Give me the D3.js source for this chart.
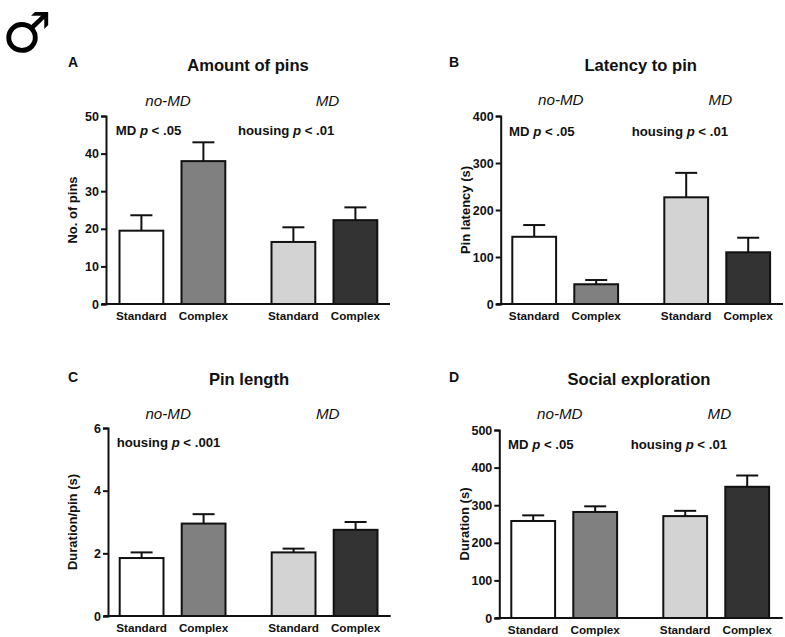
<!DOCTYPE html>
<html><head><meta charset="utf-8">
<script src="https://cdn.jsdelivr.net/npm/d3@7"></script>
<style>
html,body{margin:0;padding:0;background:#fff}
svg{display:block}
text{font-family:"Liberation Sans",Arial,sans-serif;fill:#111}
</style></head><body>
<div id="chart"></div>
<script>
const groups = ["no-MD", "MD"];
const housing = ["Standard", "Complex"];
const fills = ["#ffffff", "#808080", "#d3d3d3", "#333333"];

const pinsMean = [19.5, 38, 16.5, 22.3];
const pinsTop = [23.6, 43, 20.4, 25.7];
const pinsTicks = [0, 10, 20, 30, 40, 50];

const latencyMean = [143, 42, 227, 110];
const latencyTop = [168, 51, 279, 141];
const latencyTicks = [0, 100, 200, 300, 400];

const lengthMean = [1.85, 2.95, 2.03, 2.75];
const lengthTop = [2.03, 3.25, 2.15, 3.0];
const lengthTicks = [0, 2, 4, 6];

const socialMean = [258, 282, 271, 349];
const socialTop = [273, 297, 285, 379];
const socialTicks = [0, 100, 200, 300, 400, 500];

const panels = [
  {letter:"A", title:"Amount of pins", yLabel:"No. of pins", mean:pinsMean, top:pinsTop, ticks:pinsTicks,
   axisX:106, y0:304, y1:116, end:390, barX:119.5, lx:68, ly:66.5, tx:248, ty:71, gy:106, sy:135, ylx:72, yly:210,
   stats:[[115.7,"MD "," < .05"],[238,"housing "," < .01"]]},
  {letter:"B", title:"Latency to pin", yLabel:"Pin latency (s)", mean:latencyMean, top:latencyTop, ticks:latencyTicks,
   axisX:500.7, y0:304, y1:116, end:783, barX:512.3, lx:449, ly:66.5, tx:640.7, ty:71, gy:105, sy:135.5, ylx:465, yly:210,
   stats:[[509,"MD "," < .05"],[631.7,"housing "," < .01"]]},
  {letter:"C", title:"Pin length", yLabel:"Duration/pin (s)", mean:lengthMean, top:lengthTop, ticks:lengthTicks,
   axisX:108, y0:616, y1:428, end:390.7, barX:119.7, lx:68, ly:381.5, tx:249, ty:385, gy:419, sy:447, ylx:72.5, yly:522,
   stats:[[116.7,"housing "," < .001"]]},
  {letter:"D", title:"Social exploration", yLabel:"Duration (s)", mean:socialMean, top:socialTop, ticks:socialTicks,
   axisX:499.3, y0:618, y1:430, end:782.7, barX:511.3, lx:449, ly:381.5, tx:639, ty:385, gy:419, sy:449, ylx:464, yly:524,
   stats:[[508,"MD "," < .05"],[630.7,"housing "," < .01"]]}
];

const svg = d3.select("#chart").append("svg").attr("width",785).attr("height",637);

svg.append("text").attr("x",2).attr("y",52)
  .style("font-family","'DejaVu Sans'").style("font-size","56px").attr("font-weight","bold")
  .style("fill","#000").text("♂");

const barW = 43.8, innerStep = 62, groupStep = 152, sw = 2;

panels.forEach(p => {
  const g = svg.append("g");
  const y = d3.scaleLinear().domain([0, d3.max(p.ticks)]).range([p.y0, p.y1]);
  const x0 = d3.scaleOrdinal().domain(groups).range([p.barX, p.barX + groupStep]);
  const x1 = d3.scaleOrdinal().domain(housing).range([0, innerStep]);
  const rows = groups.flatMap((gr,i) => housing.map((h,j) => {
    const k = i*housing.length + j;
    return {gr, h, v:p.mean[k], t:p.top[k], fill:fills[k], x:x0(gr)+x1(h)};
  }));

  g.selectAll("line.err").data(rows).join("line").attr("class","err")
    .attr("x1",d=>d.x+barW/2).attr("x2",d=>d.x+barW/2)
    .attr("y1",d=>y(d.v)).attr("y2",d=>y(d.t)).attr("stroke","#111").attr("stroke-width",sw);
  g.selectAll("line.cap").data(rows).join("line").attr("class","cap")
    .attr("x1",d=>d.x+barW/2-11).attr("x2",d=>d.x+barW/2+11)
    .attr("y1",d=>y(d.t)).attr("y2",d=>y(d.t)).attr("stroke","#111").attr("stroke-width",sw);
  g.selectAll("rect").data(rows).join("rect")
    .attr("x",d=>d.x).attr("width",barW)
    .attr("y",d=>y(d.v)).attr("height",d=>y(0)-y(d.v))
    .attr("fill",d=>d.fill).attr("stroke","#111").attr("stroke-width",sw);

  const yAxis = d3.axisLeft(y).tickValues(p.ticks).tickSize(5).tickPadding(2).tickFormat(d3.format("d"));
  const ya = g.append("g").attr("transform",`translate(${p.axisX},0)`).call(yAxis);
  ya.select(".domain").attr("stroke","#111").attr("stroke-width",sw);
  ya.selectAll(".tick line").attr("stroke","#111").attr("stroke-width",sw);
  ya.selectAll("text").attr("font-weight","bold").style("font-size","12.5px").style("font-family","'Liberation Sans'");

  g.append("line").attr("x1",p.axisX-4).attr("x2",p.end).attr("y1",y(0)).attr("y2",y(0))
    .attr("stroke","#111").attr("stroke-width",sw);

  g.selectAll("text.cat").data(rows).join("text").attr("class","cat")
    .attr("x",d=>d.x+barW/2).attr("y",y(0)+15.5).attr("text-anchor","middle")
    .attr("font-weight","bold").style("font-size","11.7px").text(d=>d.h);

  g.append("text").attr("transform",`translate(${p.ylx},${p.yly}) rotate(-90)`)
    .attr("text-anchor","middle").attr("dy","0.36em").attr("font-weight","bold").style("font-size","13px").text(p.yLabel);

  g.append("text").attr("x",p.lx).attr("y",p.ly).attr("font-weight","bold").style("font-size","14px").text(p.letter);
  g.append("text").attr("x",p.tx).attr("y",p.ty).attr("text-anchor","middle").attr("font-weight","bold").style("font-size","16.6px").text(p.title);

  g.selectAll("text.grp").data(groups).join("text").attr("class","grp")
    .attr("x",d=>x0(d)+48.5+(d==="MD"?7.5:0)).attr("y",p.gy).attr("text-anchor","middle")
    .attr("font-style","italic").style("font-size","15.2px").text(d=>d);

  p.stats.forEach(s => {
    const t = g.append("text").attr("x",s[0]).attr("y",p.sy).attr("font-weight","bold").style("font-size","13.2px");
    t.append("tspan").text(s[1]);
    t.append("tspan").attr("font-style","italic").text("p");
    t.append("tspan").text(s[2]);
  });
});
</script>
</body></html>
